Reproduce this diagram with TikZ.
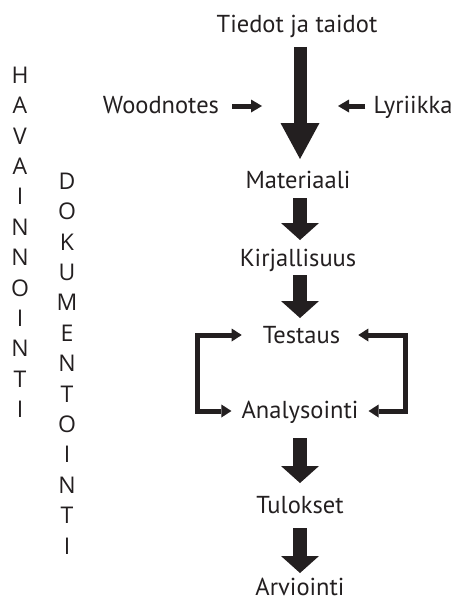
\documentclass[tikz,border=0pt]{standalone}
\usepackage{fontspec}
\setmainfont{PT Sans}
\newfontfamily\letterfont{Open Sans}
\usetikzlibrary{arrows.meta,calc}
\definecolor{ink}{HTML}{231F20}
\begin{document}
\begin{tikzpicture}[x=1pt,y=1pt,
  lbl/.style={inner sep=0pt, anchor=base, font=\fontsize{24.5}{28}\selectfont, text=ink},
  vlet/.style={inner sep=0pt, anchor=base, font=\letterfont\fontsize{23}{27}\selectfont, text=ink},
  bigarrow/.style={draw=ink, line width=13pt, -{Triangle[width=39pt,length=36pt,line width=0pt]}},
  blockarrow/.style={draw=ink, line width=14pt, -{Triangle[width=38pt,length=17pt,line width=0pt]}},
  sidearrow/.style={draw=ink, line width=5pt, -{Triangle[width=13pt,length=11pt,line width=0pt]}},
  bracket/.style={draw=ink, line width=5pt, {Triangle[width=13pt,length=10pt,line width=0pt]}-{Triangle[width=13pt,length=10pt,line width=0pt]}}
]
\useasboundingbox (0,0) rectangle (456,-602);

% main texts
\node[lbl] (tiedot) at (297,-33) {Tiedot ja taidot};
\node[lbl] (wood) at (161,-113) {Woodnotes};
\node[lbl] (lyr) at (413,-113) {Lyriikka};
\node[lbl] (mat) at (298,-188) {Materiaali};
\node[lbl] (kir) at (298,-266) {Kirjallisuus};
\node[lbl] (test) at (301.5,-343) {Testaus};
\node[lbl] (ana) at (300,-418) {Analysointi};
\node[lbl] (tul) at (300,-513) {Tulokset};
\node[lbl] (arv) at (300,-595.5) {Arviointi};

% block arrows
\draw[bigarrow] ($(tiedot.base)+(3,-14)$) -- ($(mat.base)+(2,29)$);
\draw[blockarrow] ($(mat.base)+(2,-10)$) -- ($(kir.base)+(2,26)$);
\draw[blockarrow] ($(kir.base)+(2,-9)$) -- ($(test.base)+(-1.5,25)$);
\draw[blockarrow] ($(ana.base)+(0,-20)$) -- ($(tul.base)+(0,30)$);
\draw[blockarrow] ($(tul.base)+(0,-15)$) -- ($(arv.base)+(0,22.5)$);

% side arrows
\coordinate (wtip) at (262,-106);
\coordinate (ltip) at (338,-106);
\draw[sidearrow] ($(wood.base east)+(13,7)$) -- (wtip);
\draw[sidearrow] ($(lyr.base west)+(-8,7)$) -- (ltip);

% brackets
\coordinate (lx) at (197.5,-373);
\coordinate (rx) at (405,-373);
\draw[bracket] ($(test.base west)+(-21,8)$) -| (lx) |- ($(ana.base west)+(-10,7)$);
\draw[bracket] ($(test.base east)+(18,8)$) -| (rx) |- ($(ana.base east)+(10,7)$);

% vertical words
\foreach \c [count=\i from 0] in {H,A,V,A,I,N,N,O,I,N,T,I}
  \node[vlet] (hav\i) at (20,{-83.3-30.4*\i}) {\c};
\foreach \c [count=\i from 0] in {D,O,K,U,M,E,N,T,O,I,N,T,I}
  \node[vlet] (dok\i) at (67,{-189.3-30.4*\i}) {\c};
\end{tikzpicture}
\end{document}
